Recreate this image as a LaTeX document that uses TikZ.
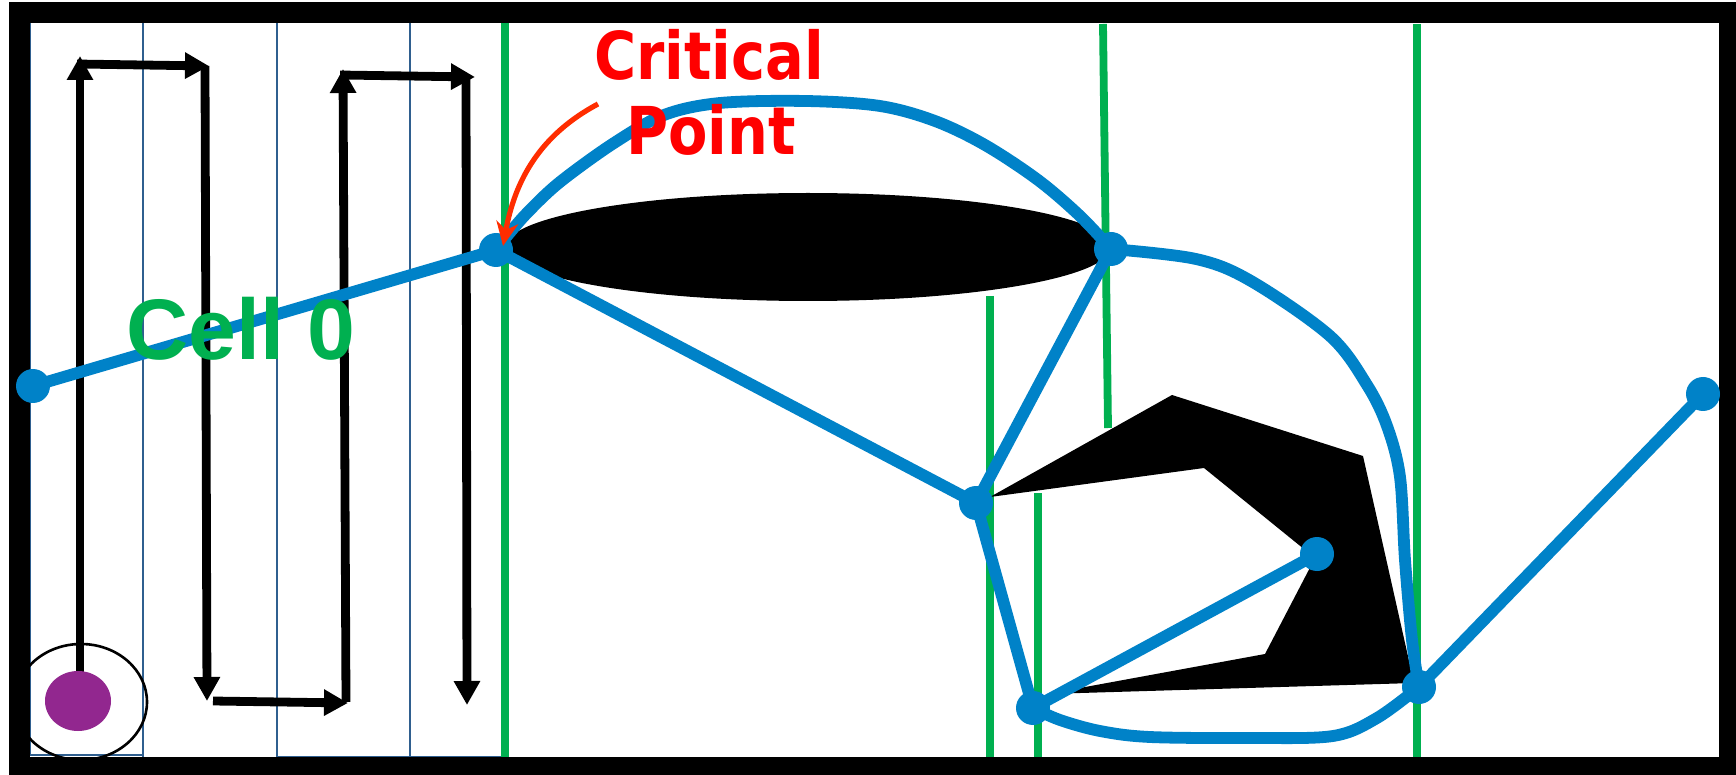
\documentclass[tikz,border=0pt]{standalone}
\usepackage{fontspec}
\usetikzlibrary{arrows.meta}
\newfontfamily\cellfont{Liberation Sans}
\newfontfamily\critfont{DejaVu Sans}
\definecolor{pathblue}{RGB}{0,130,200}
\definecolor{cellgreen}{RGB}{0,176,80}
\definecolor{thinblue}{RGB}{47,95,143}
\definecolor{obstpurple}{RGB}{146,39,143}
\definecolor{arrowred}{RGB}{255,45,0}
\definecolor{labelred}{RGB}{255,0,0}
\begin{document}
\begin{tikzpicture}[x=0.5pt,y=-0.5pt,
  thincell/.style={draw=thinblue,line width=1.2pt},
  greenline/.style={draw=cellgreen,line width=3.9pt},
  sweep/.style={line width=4.4pt,-{Triangle[length=12pt,width=12.5pt]}},
  road/.style={draw=pathblue,line width=5.9pt,line cap=round,line join=round},
  bdot/.style={circle,fill=pathblue,inner sep=0pt,minimum size=17pt},
]
\useasboundingbox (0,0) rectangle (1736,775);
\fill[white] (0,0) rectangle (1736,775);

% thin cell rectangles
\draw[thincell] (30,22) rectangle (143,755);
\draw[thincell] (143,22) rectangle (277,758);
\draw[thincell] (277,19) rectangle (410,757);
\draw[thincell] (410,19) rectangle (503,757);

% green cell boundaries
\draw[greenline] (505,22) -- (505,757);
\draw[greenline] (1103,24) -- (1108,428);
\draw[greenline] (990,296) -- (990,758);
\draw[greenline] (1038,493) -- (1038,762);
\draw[greenline] (1417,24) -- (1417,762);

% boustrophedon sweep arrows
\coordinate (s1) at (80,672);  \coordinate (s2) at (80,56);
\coordinate (s3) at (77,64);   \coordinate (s4) at (209,66);
\coordinate (s5) at (205,66);  \coordinate (s6) at (207,701);
\coordinate (s7) at (213,701); \coordinate (s8) at (348,703);
\coordinate (s9) at (346,702); \coordinate (s10) at (343,69);
\coordinate (s11) at (340,75); \coordinate (s12) at (475,77);
\coordinate (s13) at (466,76); \coordinate (s14) at (467,705);
\draw[sweep] (s1) -- (s2);
\draw[sweep] (s3) -- (s4);
\draw[sweep] (s5) -- (s6);
\draw[sweep] (s7) -- (s8);
\draw[sweep] (s9) -- (s10);
\draw[sweep] (s11) -- (s12);
\draw[sweep] (s13) -- (s14);

% obstacles
\fill[black] (808,247) ellipse [x radius=151.5pt, y radius=27pt];
\fill[black] (990,497) -- (1172,395) -- (1363,456) -- (1414,683) -- (1047,694)
  -- (1265,654) -- (1315,558) -- (1204,468) -- cycle;

% robot
\fill[obstpurple] (78,701) ellipse [x radius=16.5pt, y radius=15pt];
\draw[line width=1.3pt] (81,702) ellipse [x radius=33pt, y radius=29pt];

% frame
\draw[line width=10.5pt] (19,13) rectangle (1729,767);

% roadmap
\coordinate (A) at (33,386);
\coordinate (B) at (496,250);
\coordinate (C) at (1111,249);
\coordinate (D) at (976,503);
\coordinate (E) at (1317,554);
\coordinate (F) at (1033,708);
\coordinate (G) at (1419,687);
\coordinate (H) at (1703,394);
\draw[road] (A) -- (B);
\draw[road] (B) -- (D);
\draw[road] (D) -- (C);
\draw[road] (D) -- (F);
\draw[road] (F) -- (E);
\draw[road] (G) -- (H);
\draw[road] plot[smooth,tension=0.55] coordinates {(B) (507,236) (528,212) (560,182) (614,143) (664,115) (720,103) (806,101) (880,106) (935,121) (985,145) (1038,180) (1080,216) (C)};
\draw[road] plot[smooth,tension=0.55] coordinates {(C) (1196,259) (1251,281) (1330,336) (1367,385) (1387,426) (1400,477) (1405,560) (1412,640) (G)};
\draw[road] plot[smooth,tension=0.55] coordinates {(F) (1060,720) (1100,731) (1150,737) (1250,738) (1333,736) (1377,718) (G)};
\foreach \p in {A,B,C,D,E,F,G,H}
  \node[bdot] (dot\p) at (\p) {};

% labels
\node[inner sep=0pt,anchor=base west,text=cellgreen,font=\cellfont\bfseries\fontsize{43pt}{43pt}\selectfont] (cell0) at (126,360) {Cell 0};
\node[inner sep=0pt,anchor=base,text=labelred,font=\critfont\bfseries\fontsize{33pt}{33pt}\selectfont] (crit1) at (709,80) {\scalebox{0.87}[1]{Critical}};
\node[inner sep=0pt,anchor=base,text=labelred,font=\critfont\bfseries\fontsize{33pt}{33pt}\selectfont] (crit2) at (711,155) {\scalebox{0.87}[1]{Point}};

% pointer to the critical point
\coordinate (crA) at (598,104);
\coordinate (crB) at (503,246);
\draw[arrowred,line width=2.6pt,-{Stealth[length=12pt,width=11pt]}] (crA) .. controls (540,135) and (515,180) .. (crB);
\end{tikzpicture}
\end{document}
